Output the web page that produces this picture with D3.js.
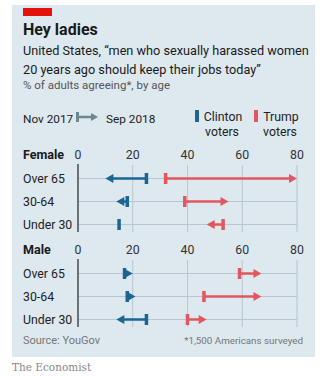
<!DOCTYPE html>
<html>
<head>
<meta charset="utf-8">
<script src="https://cdn.jsdelivr.net/npm/d3@7"></script>
<style>
  body { margin: 0; background: #fff; }
  svg { display: block; font-family: Roboto, "Noto Sans", sans-serif; }
</style>
</head>
<body>
<div id="chart"></div>
<script>
// data
const ages = ["Over 65", "30-64", "Under 30"];
const femaleClinton = [[25, 10], [18, 14], [15, 15]]; // [Nov 2017, Sep 2018]
const femaleTrump = [[32, 80], [39, 55], [53, 47]];
const maleClinton = [[17, 20], [18, 21], [25, 14]];
const maleTrump = [[59, 67], [46, 67], [40, 47]];
const ticks = [0, 20, 40, 60, 80];

const blue = "#1b6494", red = "#e1575d", grid = "#b9c6ce";

const svg = d3.select("#chart").append("svg")
  .attr("width", 326).attr("height", 376);

// panel
svg.append("rect").attr("x", 12).attr("y", 5).attr("width", 303).attr("height", 352).attr("fill", "#dde8ef");
svg.append("rect").attr("x", 23).attr("y", 8).attr("width", 29).attr("height", 8).attr("fill", "#e3120b");

svg.append("text").attr("x", 23).attr("y", 35).attr("font-size", 16).attr("font-weight", "bold")
  .attr("fill", "#1a1a1a").text("Hey ladies");
svg.append("text").attr("x", 23).attr("y", 55).attr("font-size", 12.7).attr("fill", "#1a1a1a")
  .text("United States, \u201cmen who sexually harassed women");
svg.append("text").attr("x", 23).attr("y", 74).attr("font-size", 12.7).attr("fill", "#1a1a1a")
  .text("20 years ago should keep their jobs today\u201d");
svg.append("text").attr("x", 23).attr("y", 89).attr("font-size", 11.5).attr("fill", "#555")
  .text("% of adults agreeing*, by age");

// legend
svg.append("text").attr("x", 23).attr("y", 123).attr("font-size", 11.8).attr("fill", "#222").text("Nov 2017");
svg.append("rect").attr("x", 76).attr("y", 112).attr("width", 3).attr("height", 10).attr("fill", "#6f8890");
svg.append("line").attr("x1", 78).attr("x2", 92).attr("y1", 117).attr("y2", 117)
  .attr("stroke", "#6f8890").attr("stroke-width", 2.5);
svg.append("path").attr("d", "M91,113L98,117L91,121Z").attr("fill", "#6f8890");
svg.append("text").attr("x", 106).attr("y", 123).attr("font-size", 11.8).attr("fill", "#222").text("Sep 2018");

svg.append("rect").attr("x", 195).attr("y", 110).attr("width", 4).attr("height", 12).attr("fill", blue);
svg.append("text").attr("x", 223).attr("y", 121).attr("font-size", 12.3).attr("text-anchor", "middle").attr("fill", "#222").text("Clinton");
svg.append("text").attr("x", 222).attr("y", 136).attr("font-size", 12.3).attr("text-anchor", "middle").attr("fill", "#222").text("voters");
svg.append("rect").attr("x", 254).attr("y", 110).attr("width", 4).attr("height", 12).attr("fill", red);
svg.append("text").attr("x", 281).attr("y", 121).attr("font-size", 12.3).attr("text-anchor", "middle").attr("fill", "#222").text("Trump");
svg.append("text").attr("x", 280).attr("y", 136).attr("font-size", 12.3).attr("text-anchor", "middle").attr("fill", "#222").text("voters");

const x = d3.scaleLinear().domain([0, 80]).range([78, 297]);

function panel(title, top, clinton, trump) {
  const y = d3.scaleBand().domain(ages).range([top + 8, top + 77]);
  const g = svg.append("g");

  g.append("text").attr("x", 23).attr("y", top).attr("font-size", 12.5).attr("font-weight", "bold")
    .attr("fill", "#1a1a1a").text(title);

  g.selectAll(".tick").data(ticks).enter().append("text")
    .attr("x", d => x(d)).attr("y", top).attr("font-size", 12.3).attr("text-anchor", "middle")
    .attr("fill", "#333").text(d => d);

  g.selectAll(".vgrid").data(ticks.slice(1)).enter().append("line")
    .attr("x1", d => x(d)).attr("x2", d => x(d))
    .attr("y1", top + 6).attr("y2", top + 73)
    .attr("stroke", grid).attr("stroke-width", 1);

  g.selectAll(".hgrid").data(ages).enter().append("line")
    .attr("x1", x(0)).attr("x2", x(80))
    .attr("y1", d => y(d) + y.bandwidth() / 2).attr("y2", d => y(d) + y.bandwidth() / 2)
    .attr("stroke", grid).attr("stroke-width", 1);

  g.append("line").attr("x1", x(0)).attr("x2", x(0)).attr("y1", top + 5).attr("y2", top + 73)
    .attr("stroke", "#222").attr("stroke-width", 1.2);

  g.selectAll(".lab").data(ages).enter().append("text")
    .attr("x", 23).attr("y", d => y(d) + y.bandwidth() / 2 + 4.5)
    .attr("font-size", 12.3).attr("fill", "#222").text(d => d);

  [[clinton, blue], [trump, red]].forEach(([vals, col]) => {
    vals.forEach((v, i) => {
      const cy = y(ages[i]) + y.bandwidth() / 2;
      const x0 = x(v[0]), x1 = x(v[1]);
      const dir = Math.sign(x1 - x0);
      if (Math.abs(x1 - x0) > 8) {
        g.append("line").attr("x1", x0).attr("x2", x1 - dir * 6).attr("y1", cy).attr("y2", cy)
          .attr("stroke", col).attr("stroke-width", 2.5);
      }
      if (dir !== 0) {
        g.append("path")
          .attr("d", `M${x1},${cy}L${x1 - dir * 8},${cy - 4.5}L${x1 - dir * 8},${cy + 4.5}Z`)
          .attr("fill", col);
      }
      g.append("rect").attr("x", x0 - 1.75).attr("y", cy - 5.5).attr("width", 3.5).attr("height", 11)
        .attr("fill", col);
    });
  });
}

panel("Female", 159, femaleClinton, femaleTrump);
panel("Male", 254, maleClinton, maleTrump);

svg.append("text").attr("x", 23).attr("y", 344).attr("font-size", 11).attr("fill", "#777").text("Source: YouGov");
svg.append("text").attr("x", 303).attr("y", 344).attr("font-size", 9.8).attr("text-anchor", "end")
  .attr("fill", "#777").text("*1,500 Americans surveyed");
svg.append("text").attr("x", 12).attr("y", 371).attr("font-size", 10.5)
  .attr("font-family", "'DejaVu Serif', serif").attr("fill", "#888").text("The Economist");
</script>
</body>
</html>
